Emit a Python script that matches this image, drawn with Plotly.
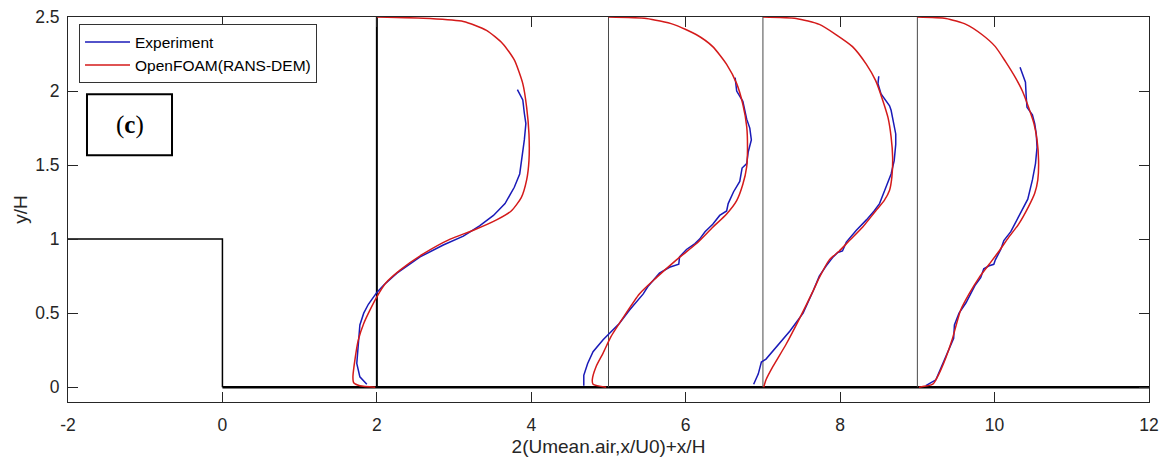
import plotly.graph_objects as go

# Station positions (x/H) and geometry of the step
stations = [2, 5, 7, 9]
step_x = [-2, 0, 0, 12]
step_y = [1, 1, 0, 0]

# Profiles: plotted abscissa 2(U/U0)+x/H and ordinate y/H
# Station x/H = 2
exp1_x = [3.82, 3.89, 3.91, 3.93, 3.91, 3.88, 3.85, 3.78, 3.66, 3.51, 3.33, 3.12, 2.86, 2.56, 2.26, 2.09, 2.00, 1.89, 1.83, 1.78, 1.76, 1.74, 1.78, 1.87]
exp1_y = [2.01, 1.94, 1.85, 1.78, 1.67, 1.55, 1.44, 1.35, 1.24, 1.16, 1.09, 1.02, 0.96, 0.88, 0.77, 0.69, 0.64, 0.56, 0.50, 0.42, 0.29, 0.16, 0.07, 0.02]
sim1_x = [2.00, 2.69, 3.12, 3.42, 3.63, 3.78, 3.89, 3.94, 3.97, 3.97, 3.94, 3.87, 3.74, 3.55, 3.25, 2.95, 2.60, 2.30, 2.11, 2.00, 1.91, 1.83, 1.76, 1.72, 1.69, 1.70, 1.78, 1.98]
sim1_y = [2.50, 2.49, 2.47, 2.41, 2.32, 2.21, 2.05, 1.89, 1.71, 1.53, 1.40, 1.28, 1.19, 1.13, 1.06, 1.00, 0.90, 0.79, 0.70, 0.61, 0.52, 0.43, 0.32, 0.20, 0.07, 0.03, 0.01, 0.00]

# Station x/H = 5
exp2_x = [6.64, 6.66, 6.74, 6.79, 6.83, 6.85, 6.81, 6.79, 6.73, 6.70, 6.62, 6.55, 6.53, 6.44, 6.35, 6.25, 6.18, 6.12, 6.01, 5.92, 5.91, 5.79, 5.66, 5.51, 5.45, 5.27, 5.14, 5.01, 4.93, 4.80, 4.73, 4.68, 4.68]
exp2_y = [2.09, 2.00, 1.93, 1.81, 1.75, 1.67, 1.59, 1.51, 1.48, 1.39, 1.32, 1.24, 1.19, 1.16, 1.10, 1.05, 1.00, 0.97, 0.93, 0.88, 0.83, 0.81, 0.77, 0.68, 0.63, 0.52, 0.43, 0.36, 0.32, 0.24, 0.16, 0.08, 0.01]
sim2_x = [5.00, 5.49, 5.84, 6.14, 6.35, 6.53, 6.66, 6.74, 6.79, 6.80, 6.79, 6.74, 6.66, 6.53, 6.35, 6.14, 5.88, 5.62, 5.40, 5.19, 5.03, 4.93, 4.84, 4.79, 4.80, 4.97]
sim2_y = [2.50, 2.49, 2.45, 2.38, 2.30, 2.18, 2.05, 1.91, 1.76, 1.60, 1.49, 1.37, 1.26, 1.17, 1.08, 0.97, 0.86, 0.74, 0.63, 0.47, 0.34, 0.23, 0.14, 0.05, 0.02, 0.00]

# Station x/H = 7
exp3_x = [8.50, 8.49, 8.53, 8.57, 8.64, 8.66, 8.69, 8.72, 8.72, 8.70, 8.66, 8.62, 8.57, 8.51, 8.44, 8.34, 8.21, 8.08, 8.03, 7.97, 7.91, 7.82, 7.73, 7.65, 7.52, 7.35, 7.17, 7.04, 6.98, 6.94, 6.88]
exp3_y = [2.10, 2.05, 1.98, 1.95, 1.90, 1.87, 1.78, 1.71, 1.64, 1.53, 1.44, 1.38, 1.32, 1.24, 1.19, 1.13, 1.06, 0.98, 0.92, 0.91, 0.88, 0.82, 0.75, 0.65, 0.50, 0.38, 0.27, 0.19, 0.17, 0.09, 0.02]
sim3_x = [7.00, 7.43, 7.73, 7.95, 8.16, 8.34, 8.46, 8.55, 8.62, 8.66, 8.68, 8.67, 8.64, 8.57, 8.46, 8.29, 8.12, 7.99, 7.86, 7.73, 7.65, 7.48, 7.30, 7.13, 7.04, 7.01]
sim3_y = [2.50, 2.49, 2.45, 2.38, 2.30, 2.18, 2.07, 1.94, 1.82, 1.69, 1.55, 1.42, 1.33, 1.26, 1.19, 1.08, 0.99, 0.92, 0.86, 0.74, 0.65, 0.47, 0.29, 0.14, 0.05, 0.00]

# Station x/H = 9
exp4_x = [10.33, 10.37, 10.40, 10.41, 10.42, 10.49, 10.52, 10.54, 10.55, 10.53, 10.49, 10.43, 10.40, 10.31, 10.21, 10.12, 10.08, 10.01, 9.99, 9.93, 9.86, 9.82, 9.75, 9.69, 9.63, 9.54, 9.48, 9.47, 9.39, 9.32, 9.24, 9.11]
exp4_y = [2.16, 2.11, 2.06, 1.96, 1.89, 1.84, 1.78, 1.71, 1.62, 1.51, 1.40, 1.27, 1.24, 1.15, 1.05, 0.99, 0.93, 0.86, 0.83, 0.82, 0.80, 0.74, 0.69, 0.63, 0.57, 0.50, 0.42, 0.33, 0.23, 0.14, 0.05, 0.01]
sim4_x = [9.00, 9.37, 9.63, 9.84, 10.01, 10.14, 10.27, 10.36, 10.44, 10.51, 10.55, 10.57, 10.56, 10.52, 10.44, 10.31, 10.18, 10.06, 9.93, 9.80, 9.67, 9.56, 9.45, 9.37, 9.28, 9.20, 9.02]
sim4_y = [2.50, 2.49, 2.45, 2.38, 2.30, 2.20, 2.09, 2.00, 1.89, 1.78, 1.67, 1.53, 1.40, 1.31, 1.22, 1.10, 1.01, 0.92, 0.83, 0.74, 0.63, 0.52, 0.32, 0.20, 0.09, 0.02, 0.00]

x_ticks = [-2, 0, 2, 4, 6, 8, 10, 12]
x_ticklabels = ["-2", "0", "2", "4", "6", "8", "10", "12"]
y_ticks = [0, 0.5, 1, 1.5, 2, 2.5]
y_ticklabels = ["0", "0.5", "1", "1.5", "2", "2.5"]

BLUE = "#1a1ab8"
RED = "#d41a1a"
FONT = "Liberation Sans"

fig = go.Figure()

# step geometry
fig.add_trace(go.Scatter(x=step_x[:3], y=step_y[:3], mode="lines",
                         line=dict(color="black", width=1.5), showlegend=False, hoverinfo="skip"))
fig.add_trace(go.Scatter(x=step_x[2:], y=step_y[2:], mode="lines",
                         line=dict(color="black", width=2.5), showlegend=False, hoverinfo="skip"))

# station lines
for i, s in enumerate(stations):
    fig.add_trace(go.Scatter(x=[s, s], y=[0, 2.5], mode="lines",
                             line=dict(color="black" if i == 0 else "#4a4a4a", width=2 if i == 0 else 1),
                             showlegend=False, hoverinfo="skip"))

exp_sets = [(exp1_x, exp1_y), (exp2_x, exp2_y), (exp3_x, exp3_y), (exp4_x, exp4_y)]
sim_sets = [(sim1_x, sim1_y), (sim2_x, sim2_y), (sim3_x, sim3_y), (sim4_x, sim4_y)]

for i, (ex, ey) in enumerate(exp_sets):
    fig.add_trace(go.Scatter(x=ex, y=ey, mode="lines", name="Experiment",
                             line=dict(color=BLUE, width=1.5),
                             legendgroup="exp", showlegend=(i == 0)))
for i, (sx, sy) in enumerate(sim_sets):
    fig.add_trace(go.Scatter(x=sx, y=sy, mode="lines", name="OpenFOAM(RANS-DEM)",
                             line=dict(color=RED, width=1.5, shape="spline", smoothing=0.6),
                             legendgroup="sim", showlegend=(i == 0)))

# (c) label box
fig.add_shape(type="rect", xref="x", yref="y", x0=-1.754, x1=-0.653, y0=1.566, y1=1.978,
              line=dict(color="black", width=2), fillcolor="white")
fig.add_annotation(x=-1.203, y=1.772, xref="x", yref="y", text="(<b>c</b>)", showarrow=False,
                   font=dict(family="Liberation Serif", size=25, color="black"))

axis_common = dict(showline=True, linecolor="#262626", linewidth=1, mirror="ticks",
                   ticks="inside", ticklen=10, tickcolor="#262626", tickwidth=1,
                   showgrid=False, zeroline=False, automargin=False,
                   tickfont=dict(family=FONT, size=17.5, color="#262626"))

fig.update_layout(
    width=1163, height=457,
    margin=dict(l=68, r=14, t=17, b=55),
    paper_bgcolor="white", plot_bgcolor="white",
    xaxis=dict(range=[-2, 12], tickvals=x_ticks, ticktext=x_ticklabels, ticklabelstandoff=7,
               title=dict(text="2(Umean.air,x/U0)+x/H", standoff=6,
                          font=dict(family=FONT, size=19, color="#262626")),
               **axis_common),
    yaxis=dict(range=[-0.1, 2.5], tickvals=y_ticks, ticktext=y_ticklabels, ticklabelstandoff=4,
               title=dict(text="y/H", standoff=2,
                          font=dict(family=FONT, size=19, color="#262626")),
               **axis_common),
    legend=dict(x=0.0102, y=0.981, xanchor="left", yanchor="top",
                bgcolor="white", bordercolor="#333333", borderwidth=1,
                font=dict(family=FONT, size=15.5, color="black"),
                tracegroupgap=0, itemwidth=45),
    showlegend=True,
)

fig.write_html("out.html")
